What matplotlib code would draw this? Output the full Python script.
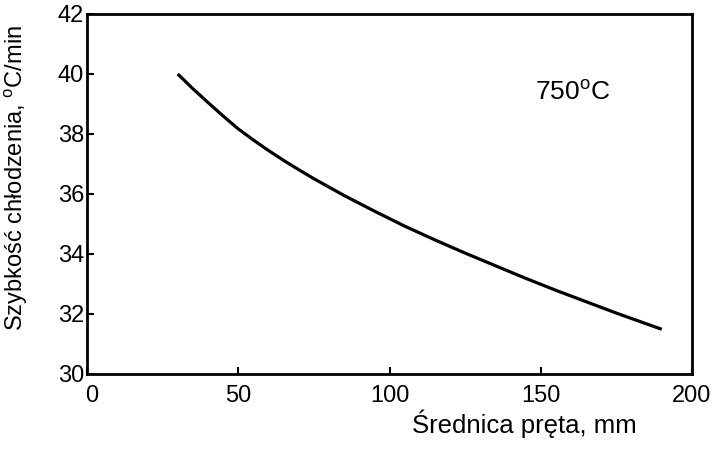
import matplotlib
matplotlib.use("Agg")
import matplotlib.pyplot as plt
from matplotlib.transforms import ScaledTranslation

# Data
diameter_mm = [30, 35, 40, 45, 50, 55, 60, 65, 70, 75, 80, 85, 90, 95, 100, 105, 110,
               115, 120, 125, 130, 135, 140, 145, 150, 155, 160, 165, 170, 175, 180, 185, 190]
cooling_rate = [40.0, 39.51, 39.05, 38.6, 38.17, 37.8, 37.45, 37.12, 36.81, 36.51, 36.23,
                35.95, 35.69, 35.43, 35.18, 34.93, 34.70, 34.47, 34.25, 34.03, 33.82,
                33.61, 33.40, 33.19, 32.99, 32.79, 32.60, 32.41, 32.22, 32.03, 31.85,
                31.67, 31.49]
x_ticks = [0, 50, 100, 150, 200]
y_ticks = [30, 32, 34, 36, 38, 40, 42]
annotation = "750$^{\\mathrm{o}}$C"
x_label = "Średnica pręta, mm"
y_label = "Szybkość chłodzenia, $^{\\mathrm{o}}$C/min"

plt.rcParams['font.family'] = ['Liberation Sans', 'DejaVu Sans']
plt.rcParams['mathtext.fontset'] = 'custom'
plt.rcParams['mathtext.rm'] = 'Liberation Sans'

fig = plt.figure(figsize=(7.14, 4.54), dpi=100)
ax = fig.add_axes([87/714, 80/454, (692-87)/714, (374-14)/454])

ax.plot(diameter_mm, cooling_rate, color='black', lw=2.3,
        solid_capstyle='butt', solid_joinstyle='round')

ax.set_xlim(0, 200)
ax.set_ylim(30, 42)
ax.set_xticks(x_ticks)
ax.set_yticks(y_ticks)
ax.tick_params(direction='in', length=5, width=1.5, labelsize=17, colors='black')
ax.tick_params(axis='x', pad=8)
ax.tick_params(axis='y', pad=2)
for s in ax.spines.values():
    s.set_linewidth(2.0)

fig.canvas.draw()
first = ax.get_xticklabels()[0]
first.set_transform(first.get_transform() + ScaledTranslation(5/100, 0, fig.dpi_scale_trans))

ax.text(148, 39.4, annotation, fontsize=19, ha='left', va='center')

fig.text(637/714, (454-433)/454, x_label, fontsize=18.5, ha='right', va='baseline')
fig.text(16/714, 0.608, y_label, fontsize=17, rotation=90, ha='center', va='center')

fig.savefig("out.png", dpi=100)
